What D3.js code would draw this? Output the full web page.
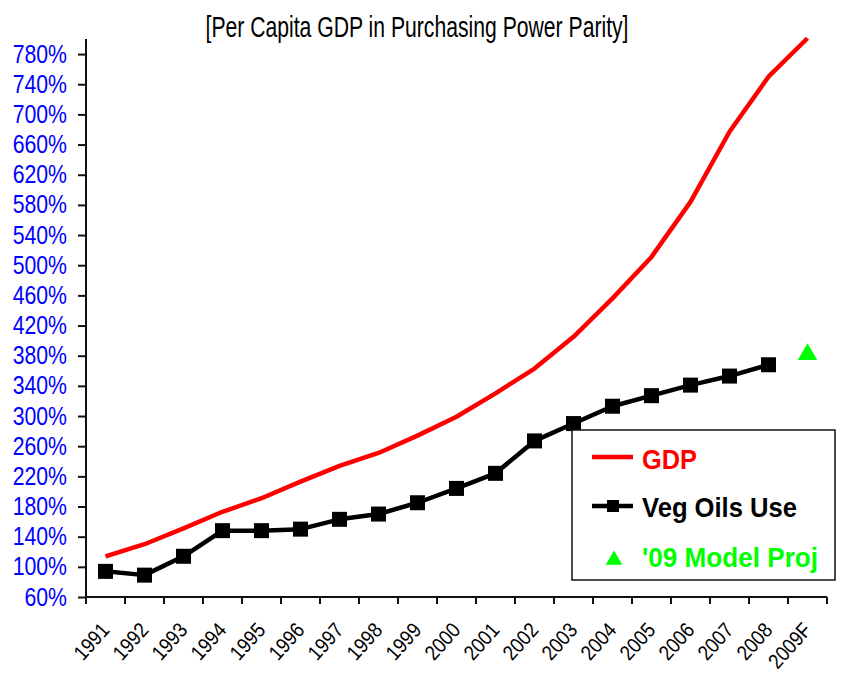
<!DOCTYPE html>
<html>
<head>
<meta charset="utf-8">
<script src="https://cdn.jsdelivr.net/npm/d3@7"></script>
<style>
  body { margin: 0; background: #fff; }
  svg { display: block; font-family: 'Liberation Sans Narrow', 'Arial Narrow', 'Liberation Sans', Arial, sans-serif; }
</style>
</head>
<body>
<div id="chart"></div>
<script>
(function () {
    'use strict';

    // values (percent of 1991 level)
    const years = ['1991', '1992', '1993', '1994', '1995', '1996', '1997', '1998', '1999', '2000',
        '2001', '2002', '2003', '2004', '2005', '2006', '2007', '2008', '2009F'];
    const gdpValues = [114, 130, 151, 173, 191, 213, 234, 251, 274, 299,
        330, 363, 405, 456, 511, 584, 677, 750, 801];
    const vegOilValues = [94, 89, 114, 148, 148, 150, 163, 170, 185, 204,
        224, 267, 290, 313, 327, 341, 353, 368];
    const projYears = ['2009F'];
    const projValues = [383];
    const yTickValues = [60, 100, 140, 180, 220, 260, 300, 340, 380, 420,
        460, 500, 540, 580, 620, 660, 700, 740, 780];
    const yDomain = [60, 800];

    const width = 846;
    const height = 678;
    const plot = { left: 86, right: 827, top: 39, bottom: 597 };

    // the chart font is a narrow one; squeeze the regular face when no narrow face is around
    const narrow = function (sel, factor) {
        sel.each(function () {
            const len = this.getComputedTextLength();
            d3.select(this).attr('textLength', len * factor).attr('lengthAdjust', 'spacingAndGlyphs');
        });
    };

    const svg = d3.select('#chart').append('svg')
        .attr('width', width)
        .attr('height', height);

    const xScale = d3.scaleBand().domain(years).range([plot.left, plot.right]).padding(0);
    const yScale = d3.scaleLinear().domain(yDomain).range([plot.bottom, plot.top]);
    const xMid = function (d) { return xScale(d) + xScale.bandwidth() / 2; };

    // title
    svg.append('text')
        .attr('x', 417).attr('y', 37)
        .attr('text-anchor', 'middle')
        .attr('textLength', 423).attr('lengthAdjust', 'spacingAndGlyphs')
        .style('font-size', '30px').style('fill', '#000')
        .text('[Per Capita GDP in Purchasing Power Parity]');

    // y axis
    const yAxis = d3.axisLeft(yScale).tickValues(yTickValues).tickSize(8).tickPadding(11)
        .tickFormat(function (d) { return d + '%'; });
    const yG = svg.append('g').attr('class', 'yaxis')
        .attr('transform', 'translate(' + plot.left + ',0)')
        .call(yAxis);
    yG.select('.domain').attr('d', 'M0,' + plot.top + 'V' + plot.bottom);
    yG.selectAll('line, path').style('stroke', '#111').style('stroke-width', 2);
    yG.selectAll('text').style('font-size', '25px').style('fill', '#0000ff')
        .style('font-family', null);
    narrow(yG.selectAll('text'), 0.85);

    // x axis, ticks sit on the category boundaries
    const xAxis = d3.axisBottom(xScale).tickSize(0).tickFormat('');
    const xG = svg.append('g').attr('class', 'xaxis')
        .attr('transform', 'translate(0,' + plot.bottom + ')')
        .call(xAxis);
    xG.select('.domain').attr('d', 'M' + plot.left + ',0H' + plot.right);
    xG.selectAll('line, path').style('stroke', '#111').style('stroke-width', 2);

    const bounds = years.map(function (d) { return xScale(d); }).concat([plot.right]);
    svg.append('g').selectAll('line.xtick').data(bounds).enter().append('line')
        .attr('class', 'xtick')
        .attr('x1', function (d) { return d; }).attr('x2', function (d) { return d; })
        .attr('y1', plot.bottom).attr('y2', plot.bottom + 7)
        .style('stroke', '#111').style('stroke-width', 2);

    const xLabels = svg.append('g').selectAll('text.xlabel').data(years).enter().append('text')
        .attr('class', 'xlabel')
        .attr('transform', function (d) {
            return 'translate(' + (xMid(d) - 6) + ',' + (plot.bottom + 24) + ') rotate(-48)';
        })
        .attr('text-anchor', 'end')
        .attr('dy', '0.71em')
        .style('font-size', '21px').style('fill', '#000')
        .text(function (d) { return d; });
    narrow(xLabels, 0.88);

    // GDP line
    const valueLine = d3.line()
        .x(function (d, i) { return xMid(years[i]); })
        .y(function (d) { return yScale(d); });
    svg.append('path').datum(gdpValues)
        .attr('d', valueLine)
        .style('fill', 'none').style('stroke', '#ff0000').style('stroke-width', 4.5)
        .style('stroke-linejoin', 'round');

    // veg oils line with square markers
    svg.append('path').datum(vegOilValues)
        .attr('d', valueLine)
        .style('fill', 'none').style('stroke', '#000').style('stroke-width', 4.5)
        .style('stroke-linejoin', 'round');
    const sq = 15;
    svg.append('g').selectAll('rect.veg').data(vegOilValues).enter().append('rect')
        .attr('class', 'veg')
        .attr('x', function (d, i) { return xMid(years[i]) - sq / 2; })
        .attr('y', function (d) { return yScale(d) - sq / 2; })
        .attr('width', sq).attr('height', sq)
        .style('fill', '#000');

    // model projection
    const tri = d3.symbol().type(d3.symbolTriangle).size(165);
    svg.append('g').selectAll('path.proj').data(projValues).enter().append('path')
        .attr('class', 'proj')
        .attr('transform', function (d, i) {
            return 'translate(' + xMid(projYears[i]) + ',' + (yScale(d) + 1) + ')';
        })
        .attr('d', tri)
        .style('fill', '#00ff00');

    // legend
    const legend = svg.append('g').attr('class', 'legend');
    legend.append('rect')
        .attr('x', 572).attr('y', 430).attr('width', 263).attr('height', 150)
        .style('fill', '#fff').style('stroke', '#111').style('stroke-width', 1.5);

    legend.append('line')
        .attr('x1', 592).attr('x2', 633).attr('y1', 457).attr('y2', 457)
        .style('stroke', '#ff0000').style('stroke-width', 4.5);
    legend.append('line')
        .attr('x1', 592).attr('x2', 633).attr('y1', 506).attr('y2', 506)
        .style('stroke', '#000').style('stroke-width', 4.5);
    legend.append('rect')
        .attr('x', 607).attr('y', 500).attr('width', 12).attr('height', 12)
        .style('fill', '#000');
    legend.append('path')
        .attr('transform', 'translate(614,560)')
        .attr('d', d3.symbol().type(d3.symbolTriangle).size(120))
        .style('fill', '#00ff00');

    const legendItems = [
        { label: 'GDP', color: '#ff0000', y: 469, w: 55 },
        { label: 'Veg Oils Use', color: '#000', y: 517, w: 155 },
        { label: "'09 Model Proj", color: '#00ff00', y: 567, w: 176 }
    ];
    legend.selectAll('text').data(legendItems).enter().append('text')
        .attr('x', 642)
        .attr('y', function (d) { return d.y; })
        .attr('textLength', function (d) { return d.w; })
        .attr('lengthAdjust', 'spacingAndGlyphs')
        .style('font-size', '28px').style('font-weight', 'bold')
        .style('fill', function (d) { return d.color; })
        .text(function (d) { return d.label; });
}());
</script>
</body>
</html>
